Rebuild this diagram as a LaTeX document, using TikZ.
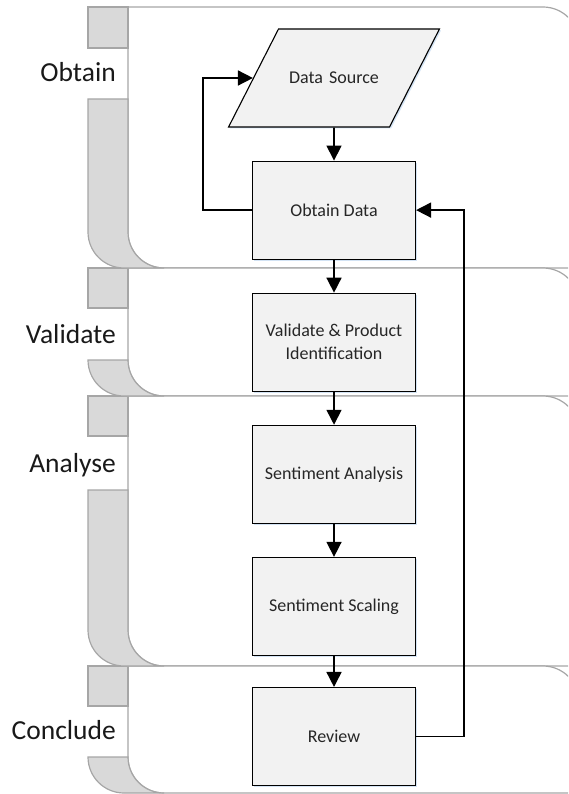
\documentclass[tikz,border=0pt]{standalone}
\usepackage{fontspec}
\setmainfont{Carlito}
\usepackage{tikz}
\usetikzlibrary{positioning, shapes.geometric, arrows.meta, shadows}
\definecolor{boxfill}{HTML}{F2F2F2}
\definecolor{tabgrey}{HTML}{D9D9D9}
\definecolor{laneline}{HTML}{A6A6A6}
\definecolor{glow}{HTML}{C9DDF2}
\tikzstyle{lane}=[draw=laneline, line width=1.2pt, fill=white]
\tikzstyle{tab}=[draw=laneline, line width=1.2pt, fill=tabgrey]
\tikzstyle{phase}=[anchor=base east, inner sep=0pt, font=\fontsize{27.5}{30}\selectfont, text=black!90]
\tikzstyle{proc}=[draw, shape=rectangle, fill=boxfill, line width=1.1pt, minimum width=163pt, minimum height=98pt, align=center, font=\fontsize{18}{23}\selectfont, text=black!85, drop shadow={shadow xshift=1.5pt, shadow yshift=-1.5pt, fill=glow, opacity=.8}]
\tikzstyle{io}=[draw, shape=trapezium, trapezium left angle=63, trapezium right angle=117, inner sep=0pt, text width=111pt, text height=55pt, text depth=43pt, fill=boxfill, line width=1.1pt, align=center, font=\fontsize{18}{23}\selectfont, text=black!85, drop shadow={shadow xshift=1.5pt, shadow yshift=-1.5pt, fill=glow, opacity=.8}]
\tikzstyle{flow}=[line width=1.6pt, -{Triangle[length=15pt, width=15pt]}]

\begin{document}
\begin{tikzpicture}[x=1pt, y=1pt]
\clip (0,0) rectangle (568,-794);
% the lanes
\draw[lane] (128,-7) -- (543,-7) arc[start angle=90, end angle=0, radius=36] -- (579,-268) -- (164,-268) arc[start angle=270, end angle=180, radius=36] -- cycle;
\draw[lane] (128,-268) -- (543,-268) arc[start angle=90, end angle=0, radius=36] -- (579,-396) -- (164,-396) arc[start angle=270, end angle=180, radius=36] -- cycle;
\draw[lane] (128,-396) -- (543,-396) arc[start angle=90, end angle=0, radius=36] -- (579,-666) -- (164,-666) arc[start angle=270, end angle=180, radius=36] -- cycle;
\draw[lane] (128,-666) -- (543,-666) arc[start angle=90, end angle=0, radius=36] -- (579,-793) -- (164,-793) arc[start angle=270, end angle=180, radius=36] -- cycle;
% the grey tabs
\draw[tab] (88,-7) rectangle (128,-48);
\draw[tab] (88,-268) rectangle (128,-308);
\draw[tab] (88,-396) rectangle (128,-436);
\draw[tab] (88,-666) rectangle (128,-706);
% the grey strips
\draw[tab] (88,-99) -- (128,-99) -- (128,-232) arc[start angle=180, end angle=270, radius=36] -- (124,-268) arc[start angle=270, end angle=180, radius=36] -- cycle;
\draw[tab] (88,-360) -- (128,-360) arc[start angle=180, end angle=270, radius=36] -- (124,-396) arc[start angle=270, end angle=180, radius=36] -- cycle;
\draw[tab] (88,-490) -- (128,-490) -- (128,-630) arc[start angle=180, end angle=270, radius=36] -- (124,-666) arc[start angle=270, end angle=180, radius=36] -- cycle;
\draw[tab] (88,-757) -- (128,-757) arc[start angle=180, end angle=270, radius=36] -- (124,-793) arc[start angle=270, end angle=180, radius=36] -- cycle;
% the phase names
\node[phase] (pobtain) at (116,-82) {Obtain};
\node[phase] (pvalidate) at (116,-343) {Validate};
\node[phase] (panalyse) at (116,-472) {Analyse};
\node[phase] (pconclude) at (116,-739) {Conclude};
% the steps
\node[io] (src) at (334,-78) {Data Source};
\node[proc, below=33pt of src] (obtain) {Obtain Data};
\node[proc, below=33pt of obtain] (validate) {Validate \& Product\\Identification};
\node[proc, below=33pt of validate] (analysis) {Sentiment Analysis};
\node[proc, below=33pt of analysis] (scaling) {Sentiment Scaling};
\node[proc, below=31pt of scaling] (review) {Review};
% the straight arrows
\draw[flow] (src) -- (obtain);
\draw[flow] (obtain) -- (validate);
\draw[flow] (validate) -- (analysis);
\draw[flow] (analysis) -- (scaling);
\draw[flow] (scaling) -- (review);
% the loops back
\draw[flow] (obtain.west) -- ++(-49,0) |- (src);
\draw[flow] (review.east) -- ++(48,0) |- (obtain.east);
\end{tikzpicture}
\end{document}
